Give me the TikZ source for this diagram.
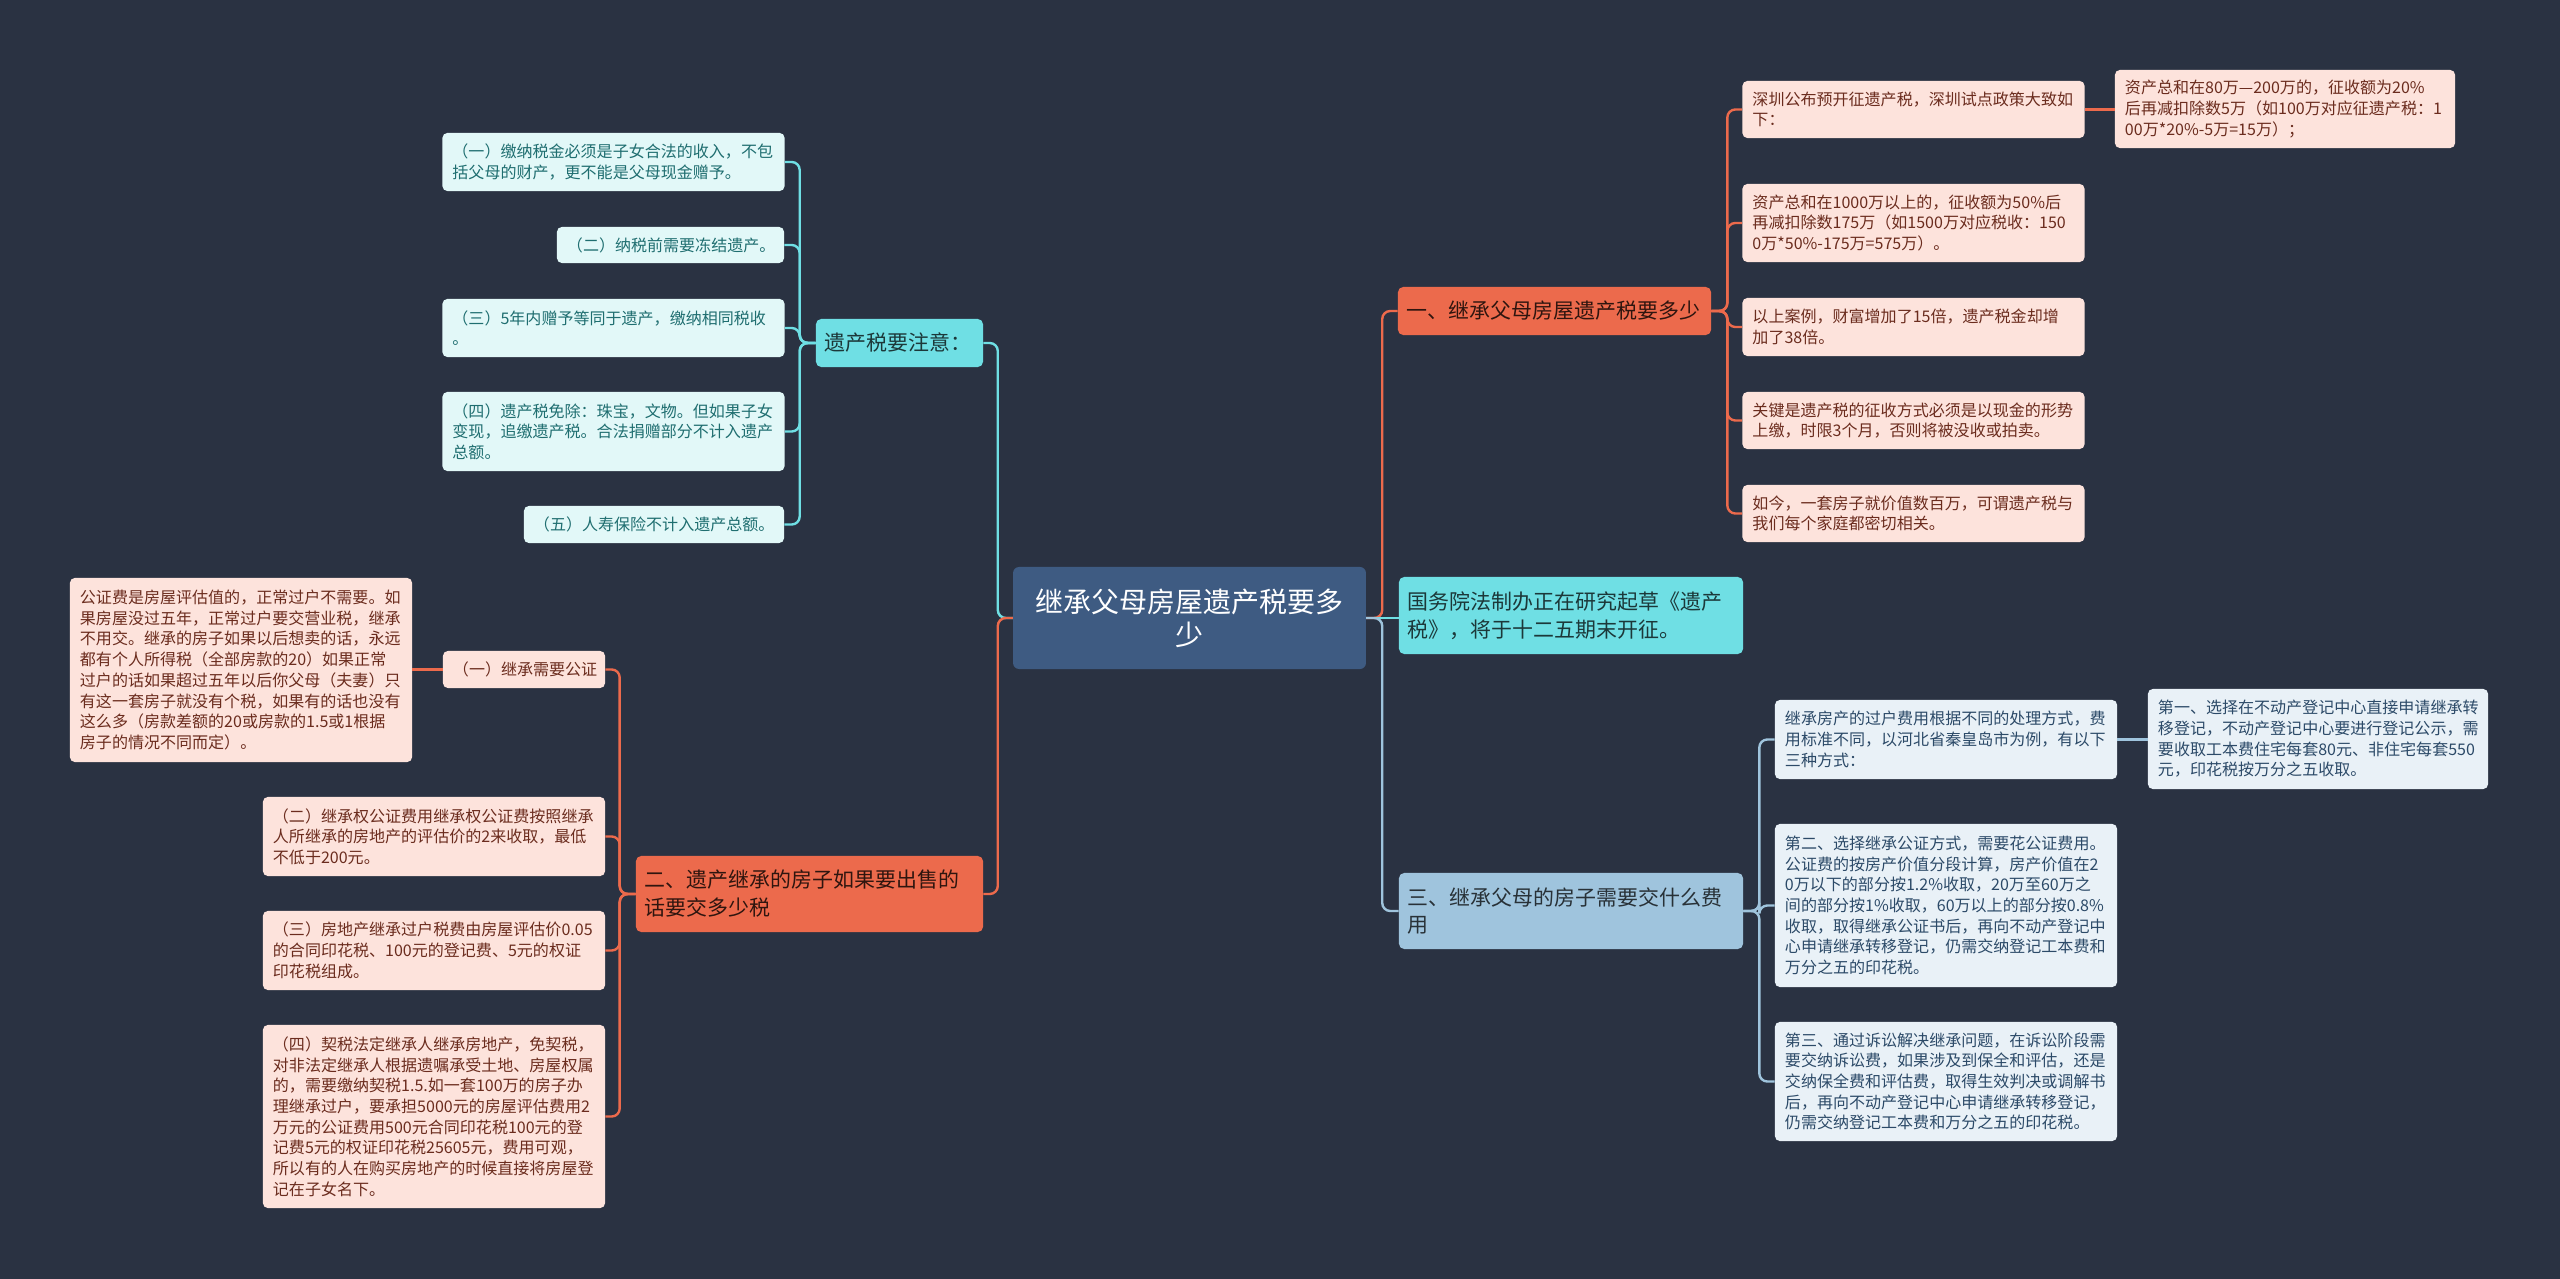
\documentclass[tikz,border=0pt]{standalone}
\usepackage{fontspec}
\setmainfont{Noto Sans CJK SC}
\usepackage{xcolor}
\usetikzlibrary{calc}
\definecolor{bgdark}{HTML}{2A3242}
\definecolor{rootblue}{HTML}{3E5B82}
\definecolor{orange}{HTML}{EC6A4C}
\definecolor{cyan}{HTML}{6FDFE4}
\definecolor{blue}{HTML}{9FC4DD}
\definecolor{pinkfill}{HTML}{FDE3DC}
\definecolor{pinktext}{HTML}{6B2C1E}
\definecolor{cyanfill}{HTML}{E2F8F8}
\definecolor{cyantext}{HTML}{1F6E70}
\definecolor{bluefill}{HTML}{E9F1F7}
\definecolor{bluetext}{HTML}{2C4A68}

\begin{document}
\begin{tikzpicture}[x=0.025cm,y=-0.025cm,
	root/.style={rectangle,rounded corners=1.5mm,fill=rootblue,text=white,align=center,
		inner xsep=4.1mm,text width=80mm,minimum height=25.5mm,font=\fontsize{19.9pt}{23.5pt}\selectfont},
	topic/.style={rectangle,rounded corners=1.3mm,align=left,inner xsep=2.25mm,
		font=\fontsize{14.9pt}{19.9pt}\selectfont},
	leaf/.style={rectangle,rounded corners=1.2mm,align=left,inner xsep=2.5mm,
		text width=80.5mm,font=\fontsize{11.4pt}{14.7pt}\selectfont},
	leafred/.style={leaf,fill=pinkfill,text=pinktext},
	leafcyan/.style={leaf,fill=cyanfill,text=cyantext},
	leafblue/.style={leaf,fill=bluefill,text=bluetext},
	link/.style={line width=0.6mm,rounded corners=2mm},
	]
	\useasboundingbox (0,0) rectangle (2560,1279);
	\fill[bgdark] (0,0) rectangle (2560,1279);
	
	\node[root] (root) at (1189.5,618) {继承父母房屋遗产税要多\\少};
	
	% right side
	\node[topic,fill=orange,text=black!80!orange,text width=73.75mm,minimum height=12mm] (b1) at (1554.5,311) {一、继承父母房屋遗产税要多少};
	\node[topic,fill=cyan,text=black!75!cyan,text width=81.5mm,minimum height=19.25mm] (b2) at (1571,615.5) {国务院法制办正在研究起草《遗产\\税》，将于十二五期末开征。};
	\node[topic,fill=blue,text=black!75!blue,text width=81.5mm,minimum height=19mm] (b3) at (1571,911) {三、继承父母的房子需要交什么费\\用};
	
	\node[leafred,minimum height=14.25mm] (c1) at (1913.5,109.5) {深圳公布预开征遗产税，深圳试点政策大致如\\下：};
	\node[leafred,text width=80mm,minimum height=19.5mm] (c1a) at (2285,109) {资产总和在80万—200万的，征收额为20\%\\后再减扣除数5万（如100万对应征遗产税：1\\00万*20\%-5万=15万）；};
	\node[leafred,minimum height=19.5mm] (c2) at (1913.5,223) {资产总和在1000万以上的，征收额为50\%后\\再减扣除数175万（如1500万对应税收：150\\0万*50\%-175万=575万）。};
	\node[leafred,minimum height=14.5mm] (c3) at (1913.5,327) {以上案例，财富增加了15倍，遗产税金却增\\加了38倍。};
	\node[leafred,minimum height=14.25mm] (c4) at (1913.5,420.5) {关键是遗产税的征收方式必须是以现金的形势\\上缴，时限3个月，否则将被没收或拍卖。};
	\node[leafred,minimum height=14.25mm] (c5) at (1913.5,513.5) {如今，一套房子就价值数百万，可谓遗产税与\\我们每个家庭都密切相关。};
	
	\node[leafblue,minimum height=19.75mm] (d1) at (1946,739.5) {继承房产的过户费用根据不同的处理方式，费\\用标准不同，以河北省秦皇岛市为例，有以下\\三种方式：};
	\node[leafblue,text width=80mm,minimum height=25mm] (d1a) at (2318,739) {第一、选择在不动产登记中心直接申请继承转\\移登记，不动产登记中心要进行登记公示，需\\要收取工本费住宅每套80元、非住宅每套550\\元，印花税按万分之五收取。};
	\node[leafblue,minimum height=40.75mm] (d2) at (1946,905.5) {第二、选择继承公证方式，需要花公证费用。\\公证费的按房产价值分段计算，房产价值在2\\0万以下的部分按1.2\%收取，20万至60万之\\间的部分按1\%收取，60万以上的部分按0.8\%\\收取，取得继承公证书后，再向不动产登记中\\心申请继承转移登记，仍需交纳登记工本费和\\万分之五的印花税。};
	\node[leafblue,minimum height=29.75mm] (d3) at (1946,1081.5) {第三、通过诉讼解决继承问题，在诉讼阶段需\\要交纳诉讼费，如果涉及到保全和评估，还是\\交纳保全费和评估费，取得生效判决或调解书\\后，再向不动产登记中心申请继承转移登记，\\仍需交纳登记工本费和万分之五的印花税。};
	
	% left side
	\node[topic,fill=cyan,text=black!75!cyan,text width=37.25mm,minimum height=12mm] (b4) at (899.5,343) {遗产税要注意：};
	\node[topic,fill=orange,text=black!80!orange,text width=82.25mm,minimum height=19mm] (b5) at (809.5,894) {二、遗产继承的房子如果要出售的\\话要交多少税};
	
	\node[leafcyan,minimum height=14.5mm] (e1) at (613.5,162) {（一）缴纳税金必须是子女合法的收入，不包\\括父母的财产，更不能是父母现金赠予。};
	\node[leafcyan,text width=51.75mm,minimum height=9mm] (e2) at (670.5,245) {（二）纳税前需要冻结遗产。};
	\node[leafcyan,minimum height=14.5mm] (e3) at (613.5,328) {（三）5年内赠予等同于遗产，缴纳相同税收\\。};
	\node[leafcyan,minimum height=19.75mm] (e4) at (613.5,431.5) {（四）遗产税免除：珠宝，文物。但如果子女\\变现，追缴遗产税。合法捐赠部分不计入遗产\\总额。};
	\node[leafcyan,text width=60mm,minimum height=9.25mm] (e5) at (654,524.5) {（五）人寿保险不计入遗产总额。};
	
	\node[leafred,text width=35.5mm,minimum height=9.25mm] (f1) at (524,669.5) {（一）继承需要公证};
	\node[leafred,minimum height=46mm] (f1a) at (241,670) {公证费是房屋评估值的，正常过户不需要。如\\果房屋没过五年，正常过户要交营业税，继承\\不用交。继承的房子如果以后想卖的话，永远\\都有个人所得税（全部房款的20）如果正常\\过户的话如果超过五年以后你父母（夫妻）只\\有这一套房子就没有个税，如果有的话也没有\\这么多（房款差额的20或房款的1.5或1根据\\房子的情况不同而定）。};
	\node[leafred,minimum height=19.75mm] (f2) at (434,836.5) {（二）继承权公证费用继承权公证费按照继承\\人所继承的房地产的评估价的2来收取，最低\\不低于200元。};
	\node[leafred,minimum height=19.75mm] (f3) at (434,950.5) {（三）房地产继承过户税费由房屋评估价0.05\\的合同印花税、100元的登记费、5元的权证\\印花税组成。};
	\node[leafred,minimum height=45.75mm] (f4) at (434,1116.5) {（四）契税法定继承人继承房地产，免契税，\\对非法定继承人根据遗嘱承受土地、房屋权属\\的，需要缴纳契税1.5.如一套100万的房子办\\理继承过户，要承担5000元的房屋评估费用2\\万元的公证费用500元合同印花税100元的登\\记费5元的权证印花税25605元，费用可观，\\所以有的人在购买房地产的时候直接将房屋登\\记在子女名下。};
	
	% links
	\draw[link,cyan] (root.west) -- ++(-15,0) |- (b4.east);
	\draw[link,orange] (root.west) -- ++(-15,0) |- (b5.east);
	\draw[link,orange] (root.east) -- ++(16,0) |- (b1.west);
	\draw[link,cyan] (root.east) -- (root.east -| b2.west);
	\draw[link,blue] (root.east) -- ++(16,0) |- (b3.west);
	
	\foreach \n in {c1,c2,c3,c4,c5}
		\draw[link,orange] (b1.east) -- ++(16,0) |- (\n.west);
	\draw[link,orange] (c1.east) -- (c1.east -| c1a.west);
	\foreach \n in {d1,d2,d3}
		\draw[link,blue] (b3.east) -- ++(16,0) |- (\n.west);
	\draw[link,blue] (d1.east) -- (d1.east -| d1a.west);
	\foreach \n in {e1,e2,e3,e4,e5}
		\draw[link,cyan] (b4.west) -- ++(-16,0) |- (\n.east);
	\foreach \n in {f1,f2,f3,f4}
		\draw[link,orange] (b5.west) -- ++(-16,0) |- (\n.east);
	\draw[link,orange] (f1.west) -- (f1.west -| f1a.east);
\end{tikzpicture}
\end{document}
